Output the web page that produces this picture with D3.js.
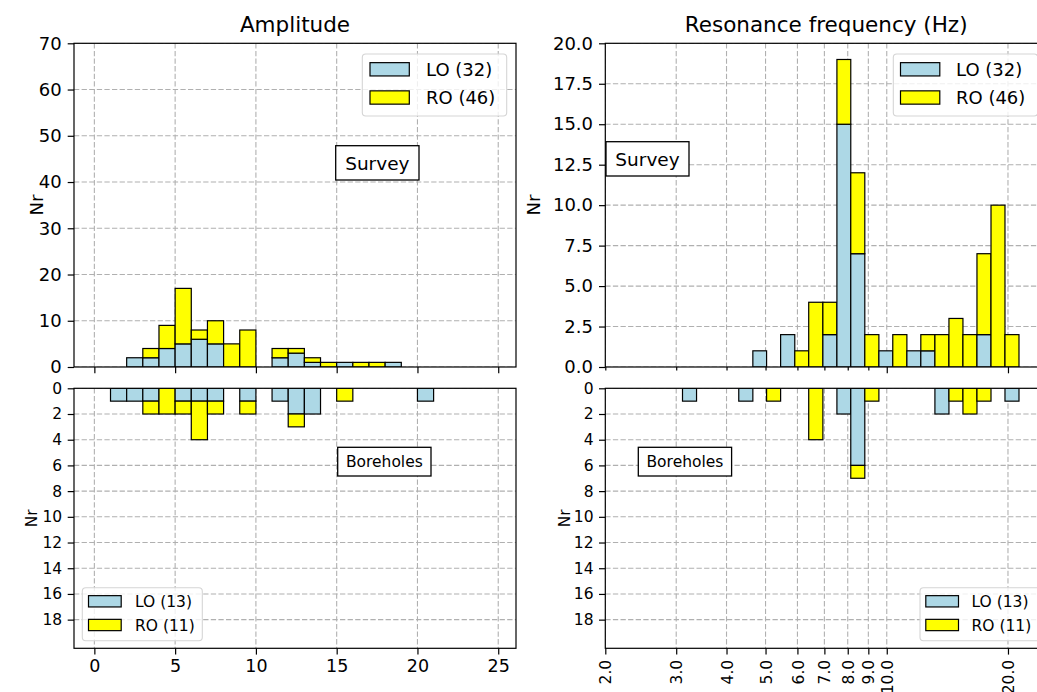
<!DOCTYPE html>
<html><head><meta charset="utf-8">
<script src="https://cdn.jsdelivr.net/npm/d3@7"></script>
<style>body{margin:0;background:#fff}svg{display:block;font-family:"DejaVu Sans",sans-serif}</style>
</head><body><svg id="c" width="1037" height="692"></svg>
<script>
// ---------- data ----------
const seriesNames = ["LO", "RO"];
const seriesColors = ["#add8e6", "#ffff00"];

// Amplitude histogram bin edges (unit-width bins)
const ampEdges = [1,2,3,4,5,6,7,8,9,10,11,12,13,14,15,16,17,18,19,20,21];
const ampSurveyLO = [0,2,2,4,5,6,5,0,0,0,2,3,1,0,1,0,0,1,0,0];
const ampSurveyRO = [0,0,2,5,12,2,5,5,8,0,2,1,1,1,0,1,1,0,0,0];
const ampBoreLO   = [1,1,1,0,1,1,1,0,1,0,1,2,2,0,0,0,0,0,0,1];
const ampBoreRO   = [0,0,1,2,1,3,1,0,1,0,0,1,0,0,1,0,0,0,0,0];

// Resonance frequency histogram bin edges (Hz, log-spaced)
const freqEdges = [3.11,3.37,3.65,3.96,4.29,4.65,5.03,5.45,5.91,6.40,6.94,7.52,8.14,8.82,9.56,10.35,11.22,12.15,13.17,14.27,15.46,16.75,18.15,19.66,21.30];
const freqSurveyLO = [0,0,0,0,0,1,0,2,0,0,2,15,7,0,1,0,1,1,0,0,0,2,0,0];
const freqSurveyRO = [0,0,0,0,0,0,0,0,1,4,2,4,5,2,0,2,0,1,2,3,2,5,10,2];
const freqBoreLO   = [1,0,0,0,1,0,0,0,0,0,0,2,6,0,0,0,0,0,2,0,0,0,0,1];
const freqBoreRO   = [0,0,0,0,0,0,1,0,0,4,0,0,1,1,0,0,0,0,0,1,2,1,0,0];

const surveyLegend = ["LO (32)", "RO (46)"];
const boreLegend = ["LO (13)", "RO (11)"];

const ampTicks = [0,5,10,15,20,25];
const freqTicks = [2,3,4,5,6,7,8,9,10,20];
const freqMinor = [2,3,4,5,6,7,8,9];
const freqMajor = [10,20];
const ampSurveyYTicks = [0,10,20,30,40,50,60,70];
const freqSurveyYTicks = [0,2.5,5,7.5,10,12.5,15,17.5,20];
const boreYTicks = [0,2,4,6,8,10,12,14,16,18];

// ---------- layout ----------
const svg = d3.select("#c");
const L = {x0:74, x1:516}, R = {x0:605.3, x1:1047};
const T = {y0:43.3, y1:367}, B = {y0:388.3, y1:648.3};

const xAmp = d3.scaleLinear().domain([-1.26, 26.1]).range([L.x0, L.x1]);
const xFreq = d3.scaleLog().domain([2, 25]).range([R.x0, R.x1]);
const yAmpTop = d3.scaleLinear().domain([0, 70]).range([T.y1, T.y0]);
const yFreqTop = d3.scaleLinear().domain([0, 20]).range([T.y1, T.y0]);
const yBot = d3.scaleLinear().domain([0, 20.23]).range([B.y0, B.y1]);

const GRID = "#b0b0b0";
let clipN = 0;

function panel(px, py, x, y, xGrid, yGrid, edges, lo, ro) {
  const id = "clip" + (clipN++);
  svg.append("clipPath").attr("id", id).append("rect")
    .attr("x", px.x0).attr("y", py.y0).attr("width", px.x1 - px.x0).attr("height", py.y1 - py.y0);
  const g = svg.append("g").attr("clip-path", `url(#${id})`);
  // grid
  g.selectAll(".gx").data(xGrid).enter().append("line")
    .attr("x1", d => x(d)).attr("x2", d => x(d)).attr("y1", py.y0).attr("y2", py.y1)
    .attr("stroke", GRID).attr("stroke-width", 1.1).attr("stroke-dasharray", "5.3,2.3");
  g.selectAll(".gy").data(yGrid).enter().append("line")
    .attr("x1", px.x0).attr("x2", px.x1).attr("y1", d => y(d)).attr("y2", d => y(d))
    .attr("stroke", GRID).attr("stroke-width", 1.1).attr("stroke-dasharray", "5.3,2.3");
  // bars (stacked)
  const rows = [];
  lo.forEach((v, i) => {
    if (v > 0) rows.push({a: 0, b: v, x0: edges[i], x1: edges[i+1], c: seriesColors[0]});
    if (ro[i] > 0) rows.push({a: v, b: v + ro[i], x0: edges[i], x1: edges[i+1], c: seriesColors[1]});
  });
  g.selectAll(".bar").data(rows).enter().append("rect")
    .attr("x", d => x(d.x0)).attr("width", d => x(d.x1) - x(d.x0))
    .attr("y", d => Math.min(y(d.a), y(d.b))).attr("height", d => Math.abs(y(d.b) - y(d.a)))
    .attr("fill", d => d.c).attr("stroke", "#000").attr("stroke-width", 1.2);
  // spines
  svg.append("rect").attr("x", px.x0).attr("y", py.y0).attr("width", px.x1 - px.x0).attr("height", py.y1 - py.y0)
    .attr("fill", "none").attr("stroke", "#000").attr("stroke-width", 1.2);
}

function styleAxis(g, fs) {
  g.attr("font-family", null).attr("font-size", null);
  g.select(".domain").remove();
  g.selectAll(".tick line").attr("stroke", "#000").attr("stroke-width", 1.2);
  g.selectAll(".tick text").attr("fill", "#000").style("font-size", fs + "px");
  return g;
}

function legend(x, y, w, h, labels, fs, patchX, patchW, patchH, rowY, textX) {
  const g = svg.append("g");
  g.append("rect").attr("x", x).attr("y", y).attr("width", w).attr("height", h).attr("rx", 3.5)
    .attr("fill", "#fff").attr("fill-opacity", 0.8).attr("stroke", "#d5d5d5").attr("stroke-width", 1.1);
  labels.forEach((t, i) => {
    g.append("rect").attr("x", patchX).attr("y", rowY[i] - patchH/2).attr("width", patchW).attr("height", patchH)
      .attr("fill", seriesColors[i]).attr("stroke", "#000").attr("stroke-width", 1.2);
    g.append("text").attr("x", textX).attr("y", rowY[i]).attr("dy", "0.36em")
      .style("font-size", fs + "px").text(t);
  });
}

function textBox(x, y, w, h, t, fs) {
  svg.append("rect").attr("x", x).attr("y", y).attr("width", w).attr("height", h)
    .attr("fill", "#fff").attr("stroke", "#000").attr("stroke-width", 1.3);
  svg.append("text").attr("x", x + w/2).attr("y", y + h/2).attr("dy", "0.36em").attr("text-anchor", "middle")
    .style("font-size", fs + "px").text(t);
}

// ---------- panels ----------
panel(L, T, xAmp, yAmpTop, ampTicks, ampSurveyYTicks, ampEdges, ampSurveyLO, ampSurveyRO);
panel(L, B, xAmp, yBot, ampTicks, boreYTicks, ampEdges, ampBoreLO, ampBoreRO);
panel(R, T, xFreq, yFreqTop, freqTicks, freqSurveyYTicks, freqEdges, freqSurveyLO, freqSurveyRO);
panel(R, B, xFreq, yBot, freqTicks, boreYTicks, freqEdges, freqBoreLO, freqBoreRO);

// ---------- axes ----------
styleAxis(svg.append("g").attr("transform", `translate(${L.x0},0)`)
  .call(d3.axisLeft(yAmpTop).tickValues(ampSurveyYTicks).tickSize(6.3).tickPadding(6).tickFormat(d3.format("d"))), 18);
styleAxis(svg.append("g").attr("transform", `translate(${L.x0},0)`)
  .call(d3.axisLeft(yBot).tickValues(boreYTicks).tickSize(6.3).tickPadding(5.5).tickFormat(d3.format("d"))), 15.5);
styleAxis(svg.append("g").attr("transform", `translate(${R.x0},0)`)
  .call(d3.axisLeft(yFreqTop).tickValues(freqSurveyYTicks).tickSize(6.3).tickPadding(6).tickFormat(d3.format(".1f"))), 18);
styleAxis(svg.append("g").attr("transform", `translate(${R.x0},0)`)
  .call(d3.axisLeft(yBot).tickValues(boreYTicks).tickSize(6.3).tickPadding(5.5).tickFormat(d3.format("d"))), 15.5);

// x ticks (top panels: marks only)
styleAxis(svg.append("g").attr("transform", `translate(0,${T.y1})`)
  .call(d3.axisBottom(xAmp).tickValues(ampTicks).tickSize(6.3).tickFormat("")), 18);
styleAxis(svg.append("g").attr("transform", `translate(0,${T.y1})`)
  .call(d3.axisBottom(xFreq).tickValues(freqMinor).tickSize(3.6).tickFormat("")), 18);
styleAxis(svg.append("g").attr("transform", `translate(0,${T.y1})`)
  .call(d3.axisBottom(xFreq).tickValues(freqMajor).tickSize(6.3).tickFormat("")), 18);

// x ticks bottom panels
styleAxis(svg.append("g").attr("transform", `translate(0,${B.y1})`)
  .call(d3.axisBottom(xAmp).tickValues(ampTicks).tickSize(6.3).tickPadding(5.4).tickFormat(d3.format("d"))), 17.5);
const fx = styleAxis(svg.append("g").attr("transform", `translate(0,${B.y1})`)
  .call(d3.axisBottom(xFreq).tickValues(freqTicks).tickSize(6.3).tickPadding(5).tickFormat(d3.format(".1f"))), 15.5);
fx.selectAll(".tick text").attr("transform", "rotate(-90)").attr("text-anchor", "end")
  .attr("x", -11.5).attr("y", 0).attr("dy", "0.36em");

// ---------- titles & labels ----------
svg.append("text").attr("x", (L.x0 + L.x1)/2).attr("y", 32).attr("text-anchor", "middle").style("font-size", "21.5px").text("Amplitude");
svg.append("text").attr("x", (R.x0 + R.x1)/2).attr("y", 32).attr("text-anchor", "middle").style("font-size", "21.5px").text("Resonance frequency (Hz)");

function ylab(x, y, fs) {
  svg.append("text").attr("transform", `translate(${x},${y}) rotate(-90)`).attr("text-anchor", "middle")
    .attr("dy", "0.36em").style("font-size", fs + "px").text("Nr");
}
ylab(37, (T.y0 + T.y1)/2, 18);
ylab(31, (B.y0 + B.y1)/2, 15.5);
ylab(534, (T.y0 + T.y1)/2, 18);
ylab(564, (B.y0 + B.y1)/2, 15.5);

// ---------- legends & boxes ----------
legend(362.3, 54, 144.4, 62, surveyLegend, 18, 370, 39.3, 13.3, [69.3, 97.5], 426);
legend(893.3, 54, 144.4, 62, surveyLegend, 18, 900.5, 39.3, 13.3, [69.3, 97.5], 956);
legend(82.3, 587.7, 120, 53, boreLegend, 15.5, 88.5, 32.7, 11.3, [601.3, 625], 135);
legend(920, 587.7, 120, 53, boreLegend, 15.5, 925.8, 32.7, 11.3, [601.3, 625], 971.5);

textBox(335.7, 145.7, 83.3, 34.3, "Survey", 18.5);
textBox(606, 141.7, 83, 34.3, "Survey", 18.5);
textBox(337.7, 447.3, 93.3, 28.7, "Boreholes", 15.5);
textBox(638.3, 447.3, 93.3, 28.7, "Boreholes", 15.5);
</script></body></html>
